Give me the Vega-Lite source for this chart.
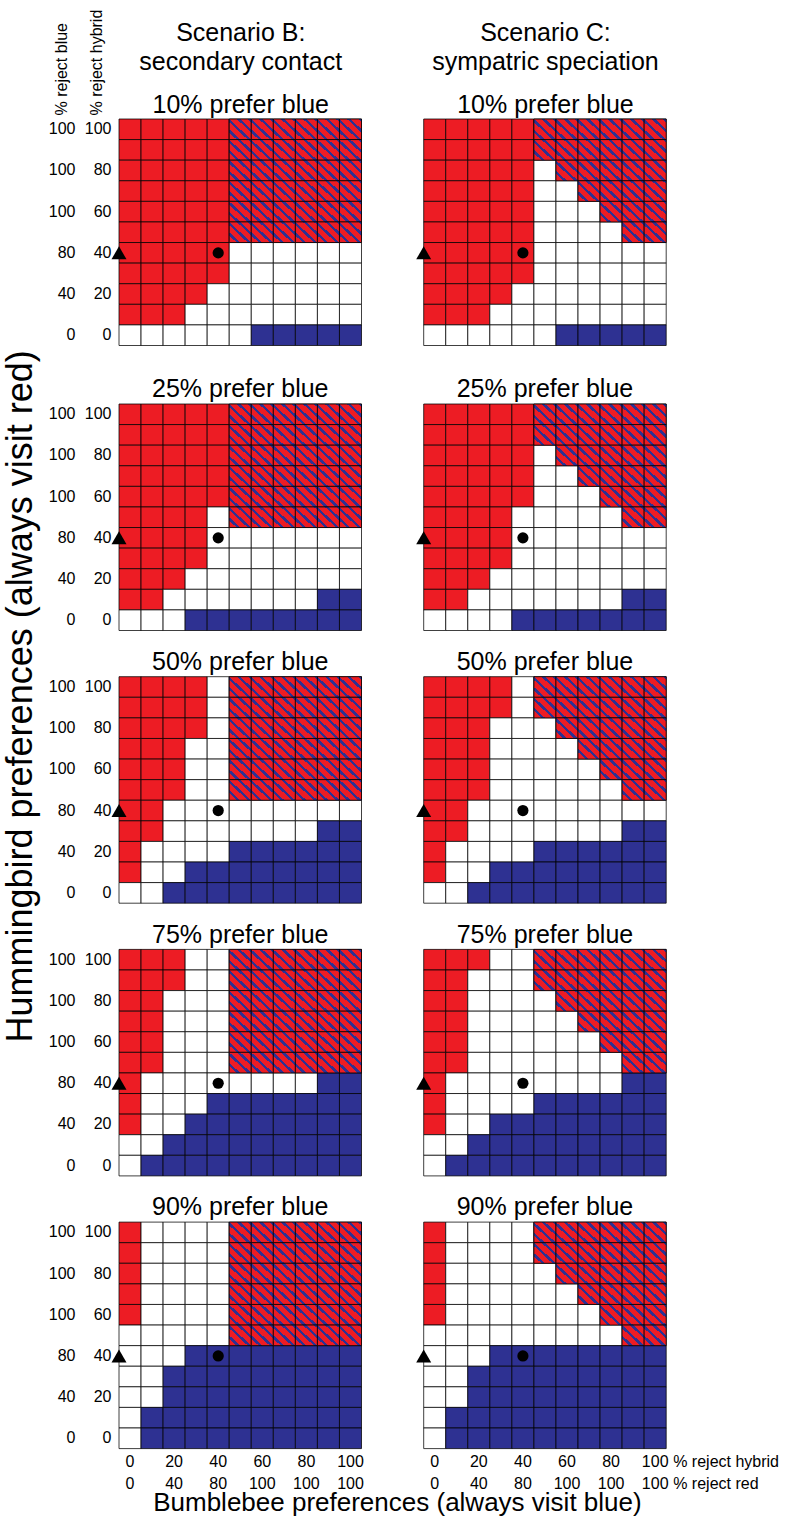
{
"$schema":"https://vega.github.io/schema/vega-lite/v6.json",
"background":"white",
"padding":{"left":3,"top":9,"right":2,"bottom":0},
"config":{"font":"Liberation Sans","view":{"stroke":null},
"axis":{"domain":false,"ticks":false,"tickSize":0,"grid":false,"labelFont":"Liberation Sans","labelFontSize":16,"labelColor":"#000","titleFont":"Liberation Sans","titleFontSize":16,"titleFontWeight":"normal","titleColor":"#000","labelAngle":0,"labelOverlap":false},
"title":{"font":"Liberation Sans","fontSize":25,"fontWeight":"normal","color":"#000"}},
"datasets":{
"markers":[{"m":"tri","x":0,"y":40},{"m":"dot","x":40,"y":40}],
"B10":[
{"x":0,"y":100,"c":"R"},{"x":10,"y":100,"c":"R"},{"x":20,"y":100,"c":"R"},{"x":30,"y":100,"c":"R"},{"x":40,"y":100,"c":"R"},{"x":50,"y":100,"c":"H"},{"x":60,"y":100,"c":"H"},{"x":70,"y":100,"c":"H"},{"x":80,"y":100,"c":"H"},{"x":90,"y":100,"c":"H"},{"x":100,"y":100,"c":"H"},
{"x":0,"y":90,"c":"R"},{"x":10,"y":90,"c":"R"},{"x":20,"y":90,"c":"R"},{"x":30,"y":90,"c":"R"},{"x":40,"y":90,"c":"R"},{"x":50,"y":90,"c":"H"},{"x":60,"y":90,"c":"H"},{"x":70,"y":90,"c":"H"},{"x":80,"y":90,"c":"H"},{"x":90,"y":90,"c":"H"},{"x":100,"y":90,"c":"H"},
{"x":0,"y":80,"c":"R"},{"x":10,"y":80,"c":"R"},{"x":20,"y":80,"c":"R"},{"x":30,"y":80,"c":"R"},{"x":40,"y":80,"c":"R"},{"x":50,"y":80,"c":"H"},{"x":60,"y":80,"c":"H"},{"x":70,"y":80,"c":"H"},{"x":80,"y":80,"c":"H"},{"x":90,"y":80,"c":"H"},{"x":100,"y":80,"c":"H"},
{"x":0,"y":70,"c":"R"},{"x":10,"y":70,"c":"R"},{"x":20,"y":70,"c":"R"},{"x":30,"y":70,"c":"R"},{"x":40,"y":70,"c":"R"},{"x":50,"y":70,"c":"H"},{"x":60,"y":70,"c":"H"},{"x":70,"y":70,"c":"H"},{"x":80,"y":70,"c":"H"},{"x":90,"y":70,"c":"H"},{"x":100,"y":70,"c":"H"},
{"x":0,"y":60,"c":"R"},{"x":10,"y":60,"c":"R"},{"x":20,"y":60,"c":"R"},{"x":30,"y":60,"c":"R"},{"x":40,"y":60,"c":"R"},{"x":50,"y":60,"c":"H"},{"x":60,"y":60,"c":"H"},{"x":70,"y":60,"c":"H"},{"x":80,"y":60,"c":"H"},{"x":90,"y":60,"c":"H"},{"x":100,"y":60,"c":"H"},
{"x":0,"y":50,"c":"R"},{"x":10,"y":50,"c":"R"},{"x":20,"y":50,"c":"R"},{"x":30,"y":50,"c":"R"},{"x":40,"y":50,"c":"R"},{"x":50,"y":50,"c":"H"},{"x":60,"y":50,"c":"H"},{"x":70,"y":50,"c":"H"},{"x":80,"y":50,"c":"H"},{"x":90,"y":50,"c":"H"},{"x":100,"y":50,"c":"H"},
{"x":0,"y":40,"c":"R"},{"x":10,"y":40,"c":"R"},{"x":20,"y":40,"c":"R"},{"x":30,"y":40,"c":"R"},{"x":40,"y":40,"c":"R"},{"x":50,"y":40,"c":"W"},{"x":60,"y":40,"c":"W"},{"x":70,"y":40,"c":"W"},{"x":80,"y":40,"c":"W"},{"x":90,"y":40,"c":"W"},{"x":100,"y":40,"c":"W"},
{"x":0,"y":30,"c":"R"},{"x":10,"y":30,"c":"R"},{"x":20,"y":30,"c":"R"},{"x":30,"y":30,"c":"R"},{"x":40,"y":30,"c":"R"},{"x":50,"y":30,"c":"W"},{"x":60,"y":30,"c":"W"},{"x":70,"y":30,"c":"W"},{"x":80,"y":30,"c":"W"},{"x":90,"y":30,"c":"W"},{"x":100,"y":30,"c":"W"},
{"x":0,"y":20,"c":"R"},{"x":10,"y":20,"c":"R"},{"x":20,"y":20,"c":"R"},{"x":30,"y":20,"c":"R"},{"x":40,"y":20,"c":"W"},{"x":50,"y":20,"c":"W"},{"x":60,"y":20,"c":"W"},{"x":70,"y":20,"c":"W"},{"x":80,"y":20,"c":"W"},{"x":90,"y":20,"c":"W"},{"x":100,"y":20,"c":"W"},
{"x":0,"y":10,"c":"R"},{"x":10,"y":10,"c":"R"},{"x":20,"y":10,"c":"R"},{"x":30,"y":10,"c":"W"},{"x":40,"y":10,"c":"W"},{"x":50,"y":10,"c":"W"},{"x":60,"y":10,"c":"W"},{"x":70,"y":10,"c":"W"},{"x":80,"y":10,"c":"W"},{"x":90,"y":10,"c":"W"},{"x":100,"y":10,"c":"W"},
{"x":0,"y":0,"c":"W"},{"x":10,"y":0,"c":"W"},{"x":20,"y":0,"c":"W"},{"x":30,"y":0,"c":"W"},{"x":40,"y":0,"c":"W"},{"x":50,"y":0,"c":"W"},{"x":60,"y":0,"c":"B"},{"x":70,"y":0,"c":"B"},{"x":80,"y":0,"c":"B"},{"x":90,"y":0,"c":"B"},{"x":100,"y":0,"c":"B"}],
"C10":[
{"x":0,"y":100,"c":"R"},{"x":10,"y":100,"c":"R"},{"x":20,"y":100,"c":"R"},{"x":30,"y":100,"c":"R"},{"x":40,"y":100,"c":"R"},{"x":50,"y":100,"c":"H"},{"x":60,"y":100,"c":"H"},{"x":70,"y":100,"c":"H"},{"x":80,"y":100,"c":"H"},{"x":90,"y":100,"c":"H"},{"x":100,"y":100,"c":"H"},
{"x":0,"y":90,"c":"R"},{"x":10,"y":90,"c":"R"},{"x":20,"y":90,"c":"R"},{"x":30,"y":90,"c":"R"},{"x":40,"y":90,"c":"R"},{"x":50,"y":90,"c":"H"},{"x":60,"y":90,"c":"H"},{"x":70,"y":90,"c":"H"},{"x":80,"y":90,"c":"H"},{"x":90,"y":90,"c":"H"},{"x":100,"y":90,"c":"H"},
{"x":0,"y":80,"c":"R"},{"x":10,"y":80,"c":"R"},{"x":20,"y":80,"c":"R"},{"x":30,"y":80,"c":"R"},{"x":40,"y":80,"c":"R"},{"x":50,"y":80,"c":"W"},{"x":60,"y":80,"c":"H"},{"x":70,"y":80,"c":"H"},{"x":80,"y":80,"c":"H"},{"x":90,"y":80,"c":"H"},{"x":100,"y":80,"c":"H"},
{"x":0,"y":70,"c":"R"},{"x":10,"y":70,"c":"R"},{"x":20,"y":70,"c":"R"},{"x":30,"y":70,"c":"R"},{"x":40,"y":70,"c":"R"},{"x":50,"y":70,"c":"W"},{"x":60,"y":70,"c":"W"},{"x":70,"y":70,"c":"H"},{"x":80,"y":70,"c":"H"},{"x":90,"y":70,"c":"H"},{"x":100,"y":70,"c":"H"},
{"x":0,"y":60,"c":"R"},{"x":10,"y":60,"c":"R"},{"x":20,"y":60,"c":"R"},{"x":30,"y":60,"c":"R"},{"x":40,"y":60,"c":"R"},{"x":50,"y":60,"c":"W"},{"x":60,"y":60,"c":"W"},{"x":70,"y":60,"c":"W"},{"x":80,"y":60,"c":"H"},{"x":90,"y":60,"c":"H"},{"x":100,"y":60,"c":"H"},
{"x":0,"y":50,"c":"R"},{"x":10,"y":50,"c":"R"},{"x":20,"y":50,"c":"R"},{"x":30,"y":50,"c":"R"},{"x":40,"y":50,"c":"R"},{"x":50,"y":50,"c":"W"},{"x":60,"y":50,"c":"W"},{"x":70,"y":50,"c":"W"},{"x":80,"y":50,"c":"W"},{"x":90,"y":50,"c":"H"},{"x":100,"y":50,"c":"H"},
{"x":0,"y":40,"c":"R"},{"x":10,"y":40,"c":"R"},{"x":20,"y":40,"c":"R"},{"x":30,"y":40,"c":"R"},{"x":40,"y":40,"c":"R"},{"x":50,"y":40,"c":"W"},{"x":60,"y":40,"c":"W"},{"x":70,"y":40,"c":"W"},{"x":80,"y":40,"c":"W"},{"x":90,"y":40,"c":"W"},{"x":100,"y":40,"c":"W"},
{"x":0,"y":30,"c":"R"},{"x":10,"y":30,"c":"R"},{"x":20,"y":30,"c":"R"},{"x":30,"y":30,"c":"R"},{"x":40,"y":30,"c":"R"},{"x":50,"y":30,"c":"W"},{"x":60,"y":30,"c":"W"},{"x":70,"y":30,"c":"W"},{"x":80,"y":30,"c":"W"},{"x":90,"y":30,"c":"W"},{"x":100,"y":30,"c":"W"},
{"x":0,"y":20,"c":"R"},{"x":10,"y":20,"c":"R"},{"x":20,"y":20,"c":"R"},{"x":30,"y":20,"c":"R"},{"x":40,"y":20,"c":"W"},{"x":50,"y":20,"c":"W"},{"x":60,"y":20,"c":"W"},{"x":70,"y":20,"c":"W"},{"x":80,"y":20,"c":"W"},{"x":90,"y":20,"c":"W"},{"x":100,"y":20,"c":"W"},
{"x":0,"y":10,"c":"R"},{"x":10,"y":10,"c":"R"},{"x":20,"y":10,"c":"R"},{"x":30,"y":10,"c":"W"},{"x":40,"y":10,"c":"W"},{"x":50,"y":10,"c":"W"},{"x":60,"y":10,"c":"W"},{"x":70,"y":10,"c":"W"},{"x":80,"y":10,"c":"W"},{"x":90,"y":10,"c":"W"},{"x":100,"y":10,"c":"W"},
{"x":0,"y":0,"c":"W"},{"x":10,"y":0,"c":"W"},{"x":20,"y":0,"c":"W"},{"x":30,"y":0,"c":"W"},{"x":40,"y":0,"c":"W"},{"x":50,"y":0,"c":"W"},{"x":60,"y":0,"c":"B"},{"x":70,"y":0,"c":"B"},{"x":80,"y":0,"c":"B"},{"x":90,"y":0,"c":"B"},{"x":100,"y":0,"c":"B"}],
"B25":[
{"x":0,"y":100,"c":"R"},{"x":10,"y":100,"c":"R"},{"x":20,"y":100,"c":"R"},{"x":30,"y":100,"c":"R"},{"x":40,"y":100,"c":"R"},{"x":50,"y":100,"c":"H"},{"x":60,"y":100,"c":"H"},{"x":70,"y":100,"c":"H"},{"x":80,"y":100,"c":"H"},{"x":90,"y":100,"c":"H"},{"x":100,"y":100,"c":"H"},
{"x":0,"y":90,"c":"R"},{"x":10,"y":90,"c":"R"},{"x":20,"y":90,"c":"R"},{"x":30,"y":90,"c":"R"},{"x":40,"y":90,"c":"R"},{"x":50,"y":90,"c":"H"},{"x":60,"y":90,"c":"H"},{"x":70,"y":90,"c":"H"},{"x":80,"y":90,"c":"H"},{"x":90,"y":90,"c":"H"},{"x":100,"y":90,"c":"H"},
{"x":0,"y":80,"c":"R"},{"x":10,"y":80,"c":"R"},{"x":20,"y":80,"c":"R"},{"x":30,"y":80,"c":"R"},{"x":40,"y":80,"c":"R"},{"x":50,"y":80,"c":"H"},{"x":60,"y":80,"c":"H"},{"x":70,"y":80,"c":"H"},{"x":80,"y":80,"c":"H"},{"x":90,"y":80,"c":"H"},{"x":100,"y":80,"c":"H"},
{"x":0,"y":70,"c":"R"},{"x":10,"y":70,"c":"R"},{"x":20,"y":70,"c":"R"},{"x":30,"y":70,"c":"R"},{"x":40,"y":70,"c":"R"},{"x":50,"y":70,"c":"H"},{"x":60,"y":70,"c":"H"},{"x":70,"y":70,"c":"H"},{"x":80,"y":70,"c":"H"},{"x":90,"y":70,"c":"H"},{"x":100,"y":70,"c":"H"},
{"x":0,"y":60,"c":"R"},{"x":10,"y":60,"c":"R"},{"x":20,"y":60,"c":"R"},{"x":30,"y":60,"c":"R"},{"x":40,"y":60,"c":"R"},{"x":50,"y":60,"c":"H"},{"x":60,"y":60,"c":"H"},{"x":70,"y":60,"c":"H"},{"x":80,"y":60,"c":"H"},{"x":90,"y":60,"c":"H"},{"x":100,"y":60,"c":"H"},
{"x":0,"y":50,"c":"R"},{"x":10,"y":50,"c":"R"},{"x":20,"y":50,"c":"R"},{"x":30,"y":50,"c":"R"},{"x":40,"y":50,"c":"W"},{"x":50,"y":50,"c":"H"},{"x":60,"y":50,"c":"H"},{"x":70,"y":50,"c":"H"},{"x":80,"y":50,"c":"H"},{"x":90,"y":50,"c":"H"},{"x":100,"y":50,"c":"H"},
{"x":0,"y":40,"c":"R"},{"x":10,"y":40,"c":"R"},{"x":20,"y":40,"c":"R"},{"x":30,"y":40,"c":"R"},{"x":40,"y":40,"c":"W"},{"x":50,"y":40,"c":"W"},{"x":60,"y":40,"c":"W"},{"x":70,"y":40,"c":"W"},{"x":80,"y":40,"c":"W"},{"x":90,"y":40,"c":"W"},{"x":100,"y":40,"c":"W"},
{"x":0,"y":30,"c":"R"},{"x":10,"y":30,"c":"R"},{"x":20,"y":30,"c":"R"},{"x":30,"y":30,"c":"R"},{"x":40,"y":30,"c":"W"},{"x":50,"y":30,"c":"W"},{"x":60,"y":30,"c":"W"},{"x":70,"y":30,"c":"W"},{"x":80,"y":30,"c":"W"},{"x":90,"y":30,"c":"W"},{"x":100,"y":30,"c":"W"},
{"x":0,"y":20,"c":"R"},{"x":10,"y":20,"c":"R"},{"x":20,"y":20,"c":"R"},{"x":30,"y":20,"c":"W"},{"x":40,"y":20,"c":"W"},{"x":50,"y":20,"c":"W"},{"x":60,"y":20,"c":"W"},{"x":70,"y":20,"c":"W"},{"x":80,"y":20,"c":"W"},{"x":90,"y":20,"c":"W"},{"x":100,"y":20,"c":"W"},
{"x":0,"y":10,"c":"R"},{"x":10,"y":10,"c":"R"},{"x":20,"y":10,"c":"W"},{"x":30,"y":10,"c":"W"},{"x":40,"y":10,"c":"W"},{"x":50,"y":10,"c":"W"},{"x":60,"y":10,"c":"W"},{"x":70,"y":10,"c":"W"},{"x":80,"y":10,"c":"W"},{"x":90,"y":10,"c":"B"},{"x":100,"y":10,"c":"B"},
{"x":0,"y":0,"c":"W"},{"x":10,"y":0,"c":"W"},{"x":20,"y":0,"c":"W"},{"x":30,"y":0,"c":"B"},{"x":40,"y":0,"c":"B"},{"x":50,"y":0,"c":"B"},{"x":60,"y":0,"c":"B"},{"x":70,"y":0,"c":"B"},{"x":80,"y":0,"c":"B"},{"x":90,"y":0,"c":"B"},{"x":100,"y":0,"c":"B"}],
"C25":[
{"x":0,"y":100,"c":"R"},{"x":10,"y":100,"c":"R"},{"x":20,"y":100,"c":"R"},{"x":30,"y":100,"c":"R"},{"x":40,"y":100,"c":"R"},{"x":50,"y":100,"c":"H"},{"x":60,"y":100,"c":"H"},{"x":70,"y":100,"c":"H"},{"x":80,"y":100,"c":"H"},{"x":90,"y":100,"c":"H"},{"x":100,"y":100,"c":"H"},
{"x":0,"y":90,"c":"R"},{"x":10,"y":90,"c":"R"},{"x":20,"y":90,"c":"R"},{"x":30,"y":90,"c":"R"},{"x":40,"y":90,"c":"R"},{"x":50,"y":90,"c":"H"},{"x":60,"y":90,"c":"H"},{"x":70,"y":90,"c":"H"},{"x":80,"y":90,"c":"H"},{"x":90,"y":90,"c":"H"},{"x":100,"y":90,"c":"H"},
{"x":0,"y":80,"c":"R"},{"x":10,"y":80,"c":"R"},{"x":20,"y":80,"c":"R"},{"x":30,"y":80,"c":"R"},{"x":40,"y":80,"c":"R"},{"x":50,"y":80,"c":"W"},{"x":60,"y":80,"c":"H"},{"x":70,"y":80,"c":"H"},{"x":80,"y":80,"c":"H"},{"x":90,"y":80,"c":"H"},{"x":100,"y":80,"c":"H"},
{"x":0,"y":70,"c":"R"},{"x":10,"y":70,"c":"R"},{"x":20,"y":70,"c":"R"},{"x":30,"y":70,"c":"R"},{"x":40,"y":70,"c":"R"},{"x":50,"y":70,"c":"W"},{"x":60,"y":70,"c":"W"},{"x":70,"y":70,"c":"H"},{"x":80,"y":70,"c":"H"},{"x":90,"y":70,"c":"H"},{"x":100,"y":70,"c":"H"},
{"x":0,"y":60,"c":"R"},{"x":10,"y":60,"c":"R"},{"x":20,"y":60,"c":"R"},{"x":30,"y":60,"c":"R"},{"x":40,"y":60,"c":"R"},{"x":50,"y":60,"c":"W"},{"x":60,"y":60,"c":"W"},{"x":70,"y":60,"c":"W"},{"x":80,"y":60,"c":"H"},{"x":90,"y":60,"c":"H"},{"x":100,"y":60,"c":"H"},
{"x":0,"y":50,"c":"R"},{"x":10,"y":50,"c":"R"},{"x":20,"y":50,"c":"R"},{"x":30,"y":50,"c":"R"},{"x":40,"y":50,"c":"W"},{"x":50,"y":50,"c":"W"},{"x":60,"y":50,"c":"W"},{"x":70,"y":50,"c":"W"},{"x":80,"y":50,"c":"W"},{"x":90,"y":50,"c":"H"},{"x":100,"y":50,"c":"H"},
{"x":0,"y":40,"c":"R"},{"x":10,"y":40,"c":"R"},{"x":20,"y":40,"c":"R"},{"x":30,"y":40,"c":"R"},{"x":40,"y":40,"c":"W"},{"x":50,"y":40,"c":"W"},{"x":60,"y":40,"c":"W"},{"x":70,"y":40,"c":"W"},{"x":80,"y":40,"c":"W"},{"x":90,"y":40,"c":"W"},{"x":100,"y":40,"c":"W"},
{"x":0,"y":30,"c":"R"},{"x":10,"y":30,"c":"R"},{"x":20,"y":30,"c":"R"},{"x":30,"y":30,"c":"R"},{"x":40,"y":30,"c":"W"},{"x":50,"y":30,"c":"W"},{"x":60,"y":30,"c":"W"},{"x":70,"y":30,"c":"W"},{"x":80,"y":30,"c":"W"},{"x":90,"y":30,"c":"W"},{"x":100,"y":30,"c":"W"},
{"x":0,"y":20,"c":"R"},{"x":10,"y":20,"c":"R"},{"x":20,"y":20,"c":"R"},{"x":30,"y":20,"c":"W"},{"x":40,"y":20,"c":"W"},{"x":50,"y":20,"c":"W"},{"x":60,"y":20,"c":"W"},{"x":70,"y":20,"c":"W"},{"x":80,"y":20,"c":"W"},{"x":90,"y":20,"c":"W"},{"x":100,"y":20,"c":"W"},
{"x":0,"y":10,"c":"R"},{"x":10,"y":10,"c":"R"},{"x":20,"y":10,"c":"W"},{"x":30,"y":10,"c":"W"},{"x":40,"y":10,"c":"W"},{"x":50,"y":10,"c":"W"},{"x":60,"y":10,"c":"W"},{"x":70,"y":10,"c":"W"},{"x":80,"y":10,"c":"W"},{"x":90,"y":10,"c":"B"},{"x":100,"y":10,"c":"B"},
{"x":0,"y":0,"c":"W"},{"x":10,"y":0,"c":"W"},{"x":20,"y":0,"c":"W"},{"x":30,"y":0,"c":"W"},{"x":40,"y":0,"c":"B"},{"x":50,"y":0,"c":"B"},{"x":60,"y":0,"c":"B"},{"x":70,"y":0,"c":"B"},{"x":80,"y":0,"c":"B"},{"x":90,"y":0,"c":"B"},{"x":100,"y":0,"c":"B"}],
"B50":[
{"x":0,"y":100,"c":"R"},{"x":10,"y":100,"c":"R"},{"x":20,"y":100,"c":"R"},{"x":30,"y":100,"c":"R"},{"x":40,"y":100,"c":"W"},{"x":50,"y":100,"c":"H"},{"x":60,"y":100,"c":"H"},{"x":70,"y":100,"c":"H"},{"x":80,"y":100,"c":"H"},{"x":90,"y":100,"c":"H"},{"x":100,"y":100,"c":"H"},
{"x":0,"y":90,"c":"R"},{"x":10,"y":90,"c":"R"},{"x":20,"y":90,"c":"R"},{"x":30,"y":90,"c":"R"},{"x":40,"y":90,"c":"W"},{"x":50,"y":90,"c":"H"},{"x":60,"y":90,"c":"H"},{"x":70,"y":90,"c":"H"},{"x":80,"y":90,"c":"H"},{"x":90,"y":90,"c":"H"},{"x":100,"y":90,"c":"H"},
{"x":0,"y":80,"c":"R"},{"x":10,"y":80,"c":"R"},{"x":20,"y":80,"c":"R"},{"x":30,"y":80,"c":"R"},{"x":40,"y":80,"c":"W"},{"x":50,"y":80,"c":"H"},{"x":60,"y":80,"c":"H"},{"x":70,"y":80,"c":"H"},{"x":80,"y":80,"c":"H"},{"x":90,"y":80,"c":"H"},{"x":100,"y":80,"c":"H"},
{"x":0,"y":70,"c":"R"},{"x":10,"y":70,"c":"R"},{"x":20,"y":70,"c":"R"},{"x":30,"y":70,"c":"W"},{"x":40,"y":70,"c":"W"},{"x":50,"y":70,"c":"H"},{"x":60,"y":70,"c":"H"},{"x":70,"y":70,"c":"H"},{"x":80,"y":70,"c":"H"},{"x":90,"y":70,"c":"H"},{"x":100,"y":70,"c":"H"},
{"x":0,"y":60,"c":"R"},{"x":10,"y":60,"c":"R"},{"x":20,"y":60,"c":"R"},{"x":30,"y":60,"c":"W"},{"x":40,"y":60,"c":"W"},{"x":50,"y":60,"c":"H"},{"x":60,"y":60,"c":"H"},{"x":70,"y":60,"c":"H"},{"x":80,"y":60,"c":"H"},{"x":90,"y":60,"c":"H"},{"x":100,"y":60,"c":"H"},
{"x":0,"y":50,"c":"R"},{"x":10,"y":50,"c":"R"},{"x":20,"y":50,"c":"R"},{"x":30,"y":50,"c":"W"},{"x":40,"y":50,"c":"W"},{"x":50,"y":50,"c":"H"},{"x":60,"y":50,"c":"H"},{"x":70,"y":50,"c":"H"},{"x":80,"y":50,"c":"H"},{"x":90,"y":50,"c":"H"},{"x":100,"y":50,"c":"H"},
{"x":0,"y":40,"c":"R"},{"x":10,"y":40,"c":"R"},{"x":20,"y":40,"c":"W"},{"x":30,"y":40,"c":"W"},{"x":40,"y":40,"c":"W"},{"x":50,"y":40,"c":"W"},{"x":60,"y":40,"c":"W"},{"x":70,"y":40,"c":"W"},{"x":80,"y":40,"c":"W"},{"x":90,"y":40,"c":"W"},{"x":100,"y":40,"c":"W"},
{"x":0,"y":30,"c":"R"},{"x":10,"y":30,"c":"R"},{"x":20,"y":30,"c":"W"},{"x":30,"y":30,"c":"W"},{"x":40,"y":30,"c":"W"},{"x":50,"y":30,"c":"W"},{"x":60,"y":30,"c":"W"},{"x":70,"y":30,"c":"W"},{"x":80,"y":30,"c":"W"},{"x":90,"y":30,"c":"B"},{"x":100,"y":30,"c":"B"},
{"x":0,"y":20,"c":"R"},{"x":10,"y":20,"c":"W"},{"x":20,"y":20,"c":"W"},{"x":30,"y":20,"c":"W"},{"x":40,"y":20,"c":"W"},{"x":50,"y":20,"c":"B"},{"x":60,"y":20,"c":"B"},{"x":70,"y":20,"c":"B"},{"x":80,"y":20,"c":"B"},{"x":90,"y":20,"c":"B"},{"x":100,"y":20,"c":"B"},
{"x":0,"y":10,"c":"R"},{"x":10,"y":10,"c":"W"},{"x":20,"y":10,"c":"W"},{"x":30,"y":10,"c":"B"},{"x":40,"y":10,"c":"B"},{"x":50,"y":10,"c":"B"},{"x":60,"y":10,"c":"B"},{"x":70,"y":10,"c":"B"},{"x":80,"y":10,"c":"B"},{"x":90,"y":10,"c":"B"},{"x":100,"y":10,"c":"B"},
{"x":0,"y":0,"c":"W"},{"x":10,"y":0,"c":"W"},{"x":20,"y":0,"c":"B"},{"x":30,"y":0,"c":"B"},{"x":40,"y":0,"c":"B"},{"x":50,"y":0,"c":"B"},{"x":60,"y":0,"c":"B"},{"x":70,"y":0,"c":"B"},{"x":80,"y":0,"c":"B"},{"x":90,"y":0,"c":"B"},{"x":100,"y":0,"c":"B"}],
"C50":[
{"x":0,"y":100,"c":"R"},{"x":10,"y":100,"c":"R"},{"x":20,"y":100,"c":"R"},{"x":30,"y":100,"c":"R"},{"x":40,"y":100,"c":"W"},{"x":50,"y":100,"c":"H"},{"x":60,"y":100,"c":"H"},{"x":70,"y":100,"c":"H"},{"x":80,"y":100,"c":"H"},{"x":90,"y":100,"c":"H"},{"x":100,"y":100,"c":"H"},
{"x":0,"y":90,"c":"R"},{"x":10,"y":90,"c":"R"},{"x":20,"y":90,"c":"R"},{"x":30,"y":90,"c":"R"},{"x":40,"y":90,"c":"W"},{"x":50,"y":90,"c":"H"},{"x":60,"y":90,"c":"H"},{"x":70,"y":90,"c":"H"},{"x":80,"y":90,"c":"H"},{"x":90,"y":90,"c":"H"},{"x":100,"y":90,"c":"H"},
{"x":0,"y":80,"c":"R"},{"x":10,"y":80,"c":"R"},{"x":20,"y":80,"c":"R"},{"x":30,"y":80,"c":"W"},{"x":40,"y":80,"c":"W"},{"x":50,"y":80,"c":"W"},{"x":60,"y":80,"c":"H"},{"x":70,"y":80,"c":"H"},{"x":80,"y":80,"c":"H"},{"x":90,"y":80,"c":"H"},{"x":100,"y":80,"c":"H"},
{"x":0,"y":70,"c":"R"},{"x":10,"y":70,"c":"R"},{"x":20,"y":70,"c":"R"},{"x":30,"y":70,"c":"W"},{"x":40,"y":70,"c":"W"},{"x":50,"y":70,"c":"W"},{"x":60,"y":70,"c":"W"},{"x":70,"y":70,"c":"H"},{"x":80,"y":70,"c":"H"},{"x":90,"y":70,"c":"H"},{"x":100,"y":70,"c":"H"},
{"x":0,"y":60,"c":"R"},{"x":10,"y":60,"c":"R"},{"x":20,"y":60,"c":"R"},{"x":30,"y":60,"c":"W"},{"x":40,"y":60,"c":"W"},{"x":50,"y":60,"c":"W"},{"x":60,"y":60,"c":"W"},{"x":70,"y":60,"c":"W"},{"x":80,"y":60,"c":"H"},{"x":90,"y":60,"c":"H"},{"x":100,"y":60,"c":"H"},
{"x":0,"y":50,"c":"R"},{"x":10,"y":50,"c":"R"},{"x":20,"y":50,"c":"R"},{"x":30,"y":50,"c":"W"},{"x":40,"y":50,"c":"W"},{"x":50,"y":50,"c":"W"},{"x":60,"y":50,"c":"W"},{"x":70,"y":50,"c":"W"},{"x":80,"y":50,"c":"W"},{"x":90,"y":50,"c":"H"},{"x":100,"y":50,"c":"H"},
{"x":0,"y":40,"c":"R"},{"x":10,"y":40,"c":"R"},{"x":20,"y":40,"c":"W"},{"x":30,"y":40,"c":"W"},{"x":40,"y":40,"c":"W"},{"x":50,"y":40,"c":"W"},{"x":60,"y":40,"c":"W"},{"x":70,"y":40,"c":"W"},{"x":80,"y":40,"c":"W"},{"x":90,"y":40,"c":"W"},{"x":100,"y":40,"c":"W"},
{"x":0,"y":30,"c":"R"},{"x":10,"y":30,"c":"R"},{"x":20,"y":30,"c":"W"},{"x":30,"y":30,"c":"W"},{"x":40,"y":30,"c":"W"},{"x":50,"y":30,"c":"W"},{"x":60,"y":30,"c":"W"},{"x":70,"y":30,"c":"W"},{"x":80,"y":30,"c":"W"},{"x":90,"y":30,"c":"B"},{"x":100,"y":30,"c":"B"},
{"x":0,"y":20,"c":"R"},{"x":10,"y":20,"c":"W"},{"x":20,"y":20,"c":"W"},{"x":30,"y":20,"c":"W"},{"x":40,"y":20,"c":"W"},{"x":50,"y":20,"c":"B"},{"x":60,"y":20,"c":"B"},{"x":70,"y":20,"c":"B"},{"x":80,"y":20,"c":"B"},{"x":90,"y":20,"c":"B"},{"x":100,"y":20,"c":"B"},
{"x":0,"y":10,"c":"R"},{"x":10,"y":10,"c":"W"},{"x":20,"y":10,"c":"W"},{"x":30,"y":10,"c":"B"},{"x":40,"y":10,"c":"B"},{"x":50,"y":10,"c":"B"},{"x":60,"y":10,"c":"B"},{"x":70,"y":10,"c":"B"},{"x":80,"y":10,"c":"B"},{"x":90,"y":10,"c":"B"},{"x":100,"y":10,"c":"B"},
{"x":0,"y":0,"c":"W"},{"x":10,"y":0,"c":"W"},{"x":20,"y":0,"c":"B"},{"x":30,"y":0,"c":"B"},{"x":40,"y":0,"c":"B"},{"x":50,"y":0,"c":"B"},{"x":60,"y":0,"c":"B"},{"x":70,"y":0,"c":"B"},{"x":80,"y":0,"c":"B"},{"x":90,"y":0,"c":"B"},{"x":100,"y":0,"c":"B"}],
"B75":[
{"x":0,"y":100,"c":"R"},{"x":10,"y":100,"c":"R"},{"x":20,"y":100,"c":"R"},{"x":30,"y":100,"c":"W"},{"x":40,"y":100,"c":"W"},{"x":50,"y":100,"c":"H"},{"x":60,"y":100,"c":"H"},{"x":70,"y":100,"c":"H"},{"x":80,"y":100,"c":"H"},{"x":90,"y":100,"c":"H"},{"x":100,"y":100,"c":"H"},
{"x":0,"y":90,"c":"R"},{"x":10,"y":90,"c":"R"},{"x":20,"y":90,"c":"R"},{"x":30,"y":90,"c":"W"},{"x":40,"y":90,"c":"W"},{"x":50,"y":90,"c":"H"},{"x":60,"y":90,"c":"H"},{"x":70,"y":90,"c":"H"},{"x":80,"y":90,"c":"H"},{"x":90,"y":90,"c":"H"},{"x":100,"y":90,"c":"H"},
{"x":0,"y":80,"c":"R"},{"x":10,"y":80,"c":"R"},{"x":20,"y":80,"c":"W"},{"x":30,"y":80,"c":"W"},{"x":40,"y":80,"c":"W"},{"x":50,"y":80,"c":"H"},{"x":60,"y":80,"c":"H"},{"x":70,"y":80,"c":"H"},{"x":80,"y":80,"c":"H"},{"x":90,"y":80,"c":"H"},{"x":100,"y":80,"c":"H"},
{"x":0,"y":70,"c":"R"},{"x":10,"y":70,"c":"R"},{"x":20,"y":70,"c":"W"},{"x":30,"y":70,"c":"W"},{"x":40,"y":70,"c":"W"},{"x":50,"y":70,"c":"H"},{"x":60,"y":70,"c":"H"},{"x":70,"y":70,"c":"H"},{"x":80,"y":70,"c":"H"},{"x":90,"y":70,"c":"H"},{"x":100,"y":70,"c":"H"},
{"x":0,"y":60,"c":"R"},{"x":10,"y":60,"c":"R"},{"x":20,"y":60,"c":"W"},{"x":30,"y":60,"c":"W"},{"x":40,"y":60,"c":"W"},{"x":50,"y":60,"c":"H"},{"x":60,"y":60,"c":"H"},{"x":70,"y":60,"c":"H"},{"x":80,"y":60,"c":"H"},{"x":90,"y":60,"c":"H"},{"x":100,"y":60,"c":"H"},
{"x":0,"y":50,"c":"R"},{"x":10,"y":50,"c":"R"},{"x":20,"y":50,"c":"W"},{"x":30,"y":50,"c":"W"},{"x":40,"y":50,"c":"W"},{"x":50,"y":50,"c":"H"},{"x":60,"y":50,"c":"H"},{"x":70,"y":50,"c":"H"},{"x":80,"y":50,"c":"H"},{"x":90,"y":50,"c":"H"},{"x":100,"y":50,"c":"H"},
{"x":0,"y":40,"c":"R"},{"x":10,"y":40,"c":"W"},{"x":20,"y":40,"c":"W"},{"x":30,"y":40,"c":"W"},{"x":40,"y":40,"c":"W"},{"x":50,"y":40,"c":"W"},{"x":60,"y":40,"c":"W"},{"x":70,"y":40,"c":"W"},{"x":80,"y":40,"c":"W"},{"x":90,"y":40,"c":"B"},{"x":100,"y":40,"c":"B"},
{"x":0,"y":30,"c":"R"},{"x":10,"y":30,"c":"W"},{"x":20,"y":30,"c":"W"},{"x":30,"y":30,"c":"W"},{"x":40,"y":30,"c":"B"},{"x":50,"y":30,"c":"B"},{"x":60,"y":30,"c":"B"},{"x":70,"y":30,"c":"B"},{"x":80,"y":30,"c":"B"},{"x":90,"y":30,"c":"B"},{"x":100,"y":30,"c":"B"},
{"x":0,"y":20,"c":"R"},{"x":10,"y":20,"c":"W"},{"x":20,"y":20,"c":"W"},{"x":30,"y":20,"c":"B"},{"x":40,"y":20,"c":"B"},{"x":50,"y":20,"c":"B"},{"x":60,"y":20,"c":"B"},{"x":70,"y":20,"c":"B"},{"x":80,"y":20,"c":"B"},{"x":90,"y":20,"c":"B"},{"x":100,"y":20,"c":"B"},
{"x":0,"y":10,"c":"W"},{"x":10,"y":10,"c":"W"},{"x":20,"y":10,"c":"B"},{"x":30,"y":10,"c":"B"},{"x":40,"y":10,"c":"B"},{"x":50,"y":10,"c":"B"},{"x":60,"y":10,"c":"B"},{"x":70,"y":10,"c":"B"},{"x":80,"y":10,"c":"B"},{"x":90,"y":10,"c":"B"},{"x":100,"y":10,"c":"B"},
{"x":0,"y":0,"c":"W"},{"x":10,"y":0,"c":"B"},{"x":20,"y":0,"c":"B"},{"x":30,"y":0,"c":"B"},{"x":40,"y":0,"c":"B"},{"x":50,"y":0,"c":"B"},{"x":60,"y":0,"c":"B"},{"x":70,"y":0,"c":"B"},{"x":80,"y":0,"c":"B"},{"x":90,"y":0,"c":"B"},{"x":100,"y":0,"c":"B"}],
"C75":[
{"x":0,"y":100,"c":"R"},{"x":10,"y":100,"c":"R"},{"x":20,"y":100,"c":"R"},{"x":30,"y":100,"c":"W"},{"x":40,"y":100,"c":"W"},{"x":50,"y":100,"c":"H"},{"x":60,"y":100,"c":"H"},{"x":70,"y":100,"c":"H"},{"x":80,"y":100,"c":"H"},{"x":90,"y":100,"c":"H"},{"x":100,"y":100,"c":"H"},
{"x":0,"y":90,"c":"R"},{"x":10,"y":90,"c":"R"},{"x":20,"y":90,"c":"W"},{"x":30,"y":90,"c":"W"},{"x":40,"y":90,"c":"W"},{"x":50,"y":90,"c":"H"},{"x":60,"y":90,"c":"H"},{"x":70,"y":90,"c":"H"},{"x":80,"y":90,"c":"H"},{"x":90,"y":90,"c":"H"},{"x":100,"y":90,"c":"H"},
{"x":0,"y":80,"c":"R"},{"x":10,"y":80,"c":"R"},{"x":20,"y":80,"c":"W"},{"x":30,"y":80,"c":"W"},{"x":40,"y":80,"c":"W"},{"x":50,"y":80,"c":"W"},{"x":60,"y":80,"c":"H"},{"x":70,"y":80,"c":"H"},{"x":80,"y":80,"c":"H"},{"x":90,"y":80,"c":"H"},{"x":100,"y":80,"c":"H"},
{"x":0,"y":70,"c":"R"},{"x":10,"y":70,"c":"R"},{"x":20,"y":70,"c":"W"},{"x":30,"y":70,"c":"W"},{"x":40,"y":70,"c":"W"},{"x":50,"y":70,"c":"W"},{"x":60,"y":70,"c":"W"},{"x":70,"y":70,"c":"H"},{"x":80,"y":70,"c":"H"},{"x":90,"y":70,"c":"H"},{"x":100,"y":70,"c":"H"},
{"x":0,"y":60,"c":"R"},{"x":10,"y":60,"c":"R"},{"x":20,"y":60,"c":"W"},{"x":30,"y":60,"c":"W"},{"x":40,"y":60,"c":"W"},{"x":50,"y":60,"c":"W"},{"x":60,"y":60,"c":"W"},{"x":70,"y":60,"c":"W"},{"x":80,"y":60,"c":"H"},{"x":90,"y":60,"c":"H"},{"x":100,"y":60,"c":"H"},
{"x":0,"y":50,"c":"R"},{"x":10,"y":50,"c":"R"},{"x":20,"y":50,"c":"W"},{"x":30,"y":50,"c":"W"},{"x":40,"y":50,"c":"W"},{"x":50,"y":50,"c":"W"},{"x":60,"y":50,"c":"W"},{"x":70,"y":50,"c":"W"},{"x":80,"y":50,"c":"W"},{"x":90,"y":50,"c":"H"},{"x":100,"y":50,"c":"H"},
{"x":0,"y":40,"c":"R"},{"x":10,"y":40,"c":"W"},{"x":20,"y":40,"c":"W"},{"x":30,"y":40,"c":"W"},{"x":40,"y":40,"c":"W"},{"x":50,"y":40,"c":"W"},{"x":60,"y":40,"c":"W"},{"x":70,"y":40,"c":"W"},{"x":80,"y":40,"c":"W"},{"x":90,"y":40,"c":"B"},{"x":100,"y":40,"c":"B"},
{"x":0,"y":30,"c":"R"},{"x":10,"y":30,"c":"W"},{"x":20,"y":30,"c":"W"},{"x":30,"y":30,"c":"W"},{"x":40,"y":30,"c":"W"},{"x":50,"y":30,"c":"B"},{"x":60,"y":30,"c":"B"},{"x":70,"y":30,"c":"B"},{"x":80,"y":30,"c":"B"},{"x":90,"y":30,"c":"B"},{"x":100,"y":30,"c":"B"},
{"x":0,"y":20,"c":"R"},{"x":10,"y":20,"c":"W"},{"x":20,"y":20,"c":"W"},{"x":30,"y":20,"c":"B"},{"x":40,"y":20,"c":"B"},{"x":50,"y":20,"c":"B"},{"x":60,"y":20,"c":"B"},{"x":70,"y":20,"c":"B"},{"x":80,"y":20,"c":"B"},{"x":90,"y":20,"c":"B"},{"x":100,"y":20,"c":"B"},
{"x":0,"y":10,"c":"W"},{"x":10,"y":10,"c":"W"},{"x":20,"y":10,"c":"B"},{"x":30,"y":10,"c":"B"},{"x":40,"y":10,"c":"B"},{"x":50,"y":10,"c":"B"},{"x":60,"y":10,"c":"B"},{"x":70,"y":10,"c":"B"},{"x":80,"y":10,"c":"B"},{"x":90,"y":10,"c":"B"},{"x":100,"y":10,"c":"B"},
{"x":0,"y":0,"c":"W"},{"x":10,"y":0,"c":"B"},{"x":20,"y":0,"c":"B"},{"x":30,"y":0,"c":"B"},{"x":40,"y":0,"c":"B"},{"x":50,"y":0,"c":"B"},{"x":60,"y":0,"c":"B"},{"x":70,"y":0,"c":"B"},{"x":80,"y":0,"c":"B"},{"x":90,"y":0,"c":"B"},{"x":100,"y":0,"c":"B"}],
"B90":[
{"x":0,"y":100,"c":"R"},{"x":10,"y":100,"c":"W"},{"x":20,"y":100,"c":"W"},{"x":30,"y":100,"c":"W"},{"x":40,"y":100,"c":"W"},{"x":50,"y":100,"c":"H"},{"x":60,"y":100,"c":"H"},{"x":70,"y":100,"c":"H"},{"x":80,"y":100,"c":"H"},{"x":90,"y":100,"c":"H"},{"x":100,"y":100,"c":"H"},
{"x":0,"y":90,"c":"R"},{"x":10,"y":90,"c":"W"},{"x":20,"y":90,"c":"W"},{"x":30,"y":90,"c":"W"},{"x":40,"y":90,"c":"W"},{"x":50,"y":90,"c":"H"},{"x":60,"y":90,"c":"H"},{"x":70,"y":90,"c":"H"},{"x":80,"y":90,"c":"H"},{"x":90,"y":90,"c":"H"},{"x":100,"y":90,"c":"H"},
{"x":0,"y":80,"c":"R"},{"x":10,"y":80,"c":"W"},{"x":20,"y":80,"c":"W"},{"x":30,"y":80,"c":"W"},{"x":40,"y":80,"c":"W"},{"x":50,"y":80,"c":"H"},{"x":60,"y":80,"c":"H"},{"x":70,"y":80,"c":"H"},{"x":80,"y":80,"c":"H"},{"x":90,"y":80,"c":"H"},{"x":100,"y":80,"c":"H"},
{"x":0,"y":70,"c":"R"},{"x":10,"y":70,"c":"W"},{"x":20,"y":70,"c":"W"},{"x":30,"y":70,"c":"W"},{"x":40,"y":70,"c":"W"},{"x":50,"y":70,"c":"H"},{"x":60,"y":70,"c":"H"},{"x":70,"y":70,"c":"H"},{"x":80,"y":70,"c":"H"},{"x":90,"y":70,"c":"H"},{"x":100,"y":70,"c":"H"},
{"x":0,"y":60,"c":"R"},{"x":10,"y":60,"c":"W"},{"x":20,"y":60,"c":"W"},{"x":30,"y":60,"c":"W"},{"x":40,"y":60,"c":"W"},{"x":50,"y":60,"c":"H"},{"x":60,"y":60,"c":"H"},{"x":70,"y":60,"c":"H"},{"x":80,"y":60,"c":"H"},{"x":90,"y":60,"c":"H"},{"x":100,"y":60,"c":"H"},
{"x":0,"y":50,"c":"W"},{"x":10,"y":50,"c":"W"},{"x":20,"y":50,"c":"W"},{"x":30,"y":50,"c":"W"},{"x":40,"y":50,"c":"W"},{"x":50,"y":50,"c":"H"},{"x":60,"y":50,"c":"H"},{"x":70,"y":50,"c":"H"},{"x":80,"y":50,"c":"H"},{"x":90,"y":50,"c":"H"},{"x":100,"y":50,"c":"H"},
{"x":0,"y":40,"c":"W"},{"x":10,"y":40,"c":"W"},{"x":20,"y":40,"c":"W"},{"x":30,"y":40,"c":"B"},{"x":40,"y":40,"c":"B"},{"x":50,"y":40,"c":"B"},{"x":60,"y":40,"c":"B"},{"x":70,"y":40,"c":"B"},{"x":80,"y":40,"c":"B"},{"x":90,"y":40,"c":"B"},{"x":100,"y":40,"c":"B"},
{"x":0,"y":30,"c":"W"},{"x":10,"y":30,"c":"W"},{"x":20,"y":30,"c":"B"},{"x":30,"y":30,"c":"B"},{"x":40,"y":30,"c":"B"},{"x":50,"y":30,"c":"B"},{"x":60,"y":30,"c":"B"},{"x":70,"y":30,"c":"B"},{"x":80,"y":30,"c":"B"},{"x":90,"y":30,"c":"B"},{"x":100,"y":30,"c":"B"},
{"x":0,"y":20,"c":"W"},{"x":10,"y":20,"c":"W"},{"x":20,"y":20,"c":"B"},{"x":30,"y":20,"c":"B"},{"x":40,"y":20,"c":"B"},{"x":50,"y":20,"c":"B"},{"x":60,"y":20,"c":"B"},{"x":70,"y":20,"c":"B"},{"x":80,"y":20,"c":"B"},{"x":90,"y":20,"c":"B"},{"x":100,"y":20,"c":"B"},
{"x":0,"y":10,"c":"W"},{"x":10,"y":10,"c":"B"},{"x":20,"y":10,"c":"B"},{"x":30,"y":10,"c":"B"},{"x":40,"y":10,"c":"B"},{"x":50,"y":10,"c":"B"},{"x":60,"y":10,"c":"B"},{"x":70,"y":10,"c":"B"},{"x":80,"y":10,"c":"B"},{"x":90,"y":10,"c":"B"},{"x":100,"y":10,"c":"B"},
{"x":0,"y":0,"c":"W"},{"x":10,"y":0,"c":"B"},{"x":20,"y":0,"c":"B"},{"x":30,"y":0,"c":"B"},{"x":40,"y":0,"c":"B"},{"x":50,"y":0,"c":"B"},{"x":60,"y":0,"c":"B"},{"x":70,"y":0,"c":"B"},{"x":80,"y":0,"c":"B"},{"x":90,"y":0,"c":"B"},{"x":100,"y":0,"c":"B"}],
"C90":[
{"x":0,"y":100,"c":"R"},{"x":10,"y":100,"c":"W"},{"x":20,"y":100,"c":"W"},{"x":30,"y":100,"c":"W"},{"x":40,"y":100,"c":"W"},{"x":50,"y":100,"c":"H"},{"x":60,"y":100,"c":"H"},{"x":70,"y":100,"c":"H"},{"x":80,"y":100,"c":"H"},{"x":90,"y":100,"c":"H"},{"x":100,"y":100,"c":"H"},
{"x":0,"y":90,"c":"R"},{"x":10,"y":90,"c":"W"},{"x":20,"y":90,"c":"W"},{"x":30,"y":90,"c":"W"},{"x":40,"y":90,"c":"W"},{"x":50,"y":90,"c":"H"},{"x":60,"y":90,"c":"H"},{"x":70,"y":90,"c":"H"},{"x":80,"y":90,"c":"H"},{"x":90,"y":90,"c":"H"},{"x":100,"y":90,"c":"H"},
{"x":0,"y":80,"c":"R"},{"x":10,"y":80,"c":"W"},{"x":20,"y":80,"c":"W"},{"x":30,"y":80,"c":"W"},{"x":40,"y":80,"c":"W"},{"x":50,"y":80,"c":"W"},{"x":60,"y":80,"c":"H"},{"x":70,"y":80,"c":"H"},{"x":80,"y":80,"c":"H"},{"x":90,"y":80,"c":"H"},{"x":100,"y":80,"c":"H"},
{"x":0,"y":70,"c":"R"},{"x":10,"y":70,"c":"W"},{"x":20,"y":70,"c":"W"},{"x":30,"y":70,"c":"W"},{"x":40,"y":70,"c":"W"},{"x":50,"y":70,"c":"W"},{"x":60,"y":70,"c":"W"},{"x":70,"y":70,"c":"H"},{"x":80,"y":70,"c":"H"},{"x":90,"y":70,"c":"H"},{"x":100,"y":70,"c":"H"},
{"x":0,"y":60,"c":"R"},{"x":10,"y":60,"c":"W"},{"x":20,"y":60,"c":"W"},{"x":30,"y":60,"c":"W"},{"x":40,"y":60,"c":"W"},{"x":50,"y":60,"c":"W"},{"x":60,"y":60,"c":"W"},{"x":70,"y":60,"c":"W"},{"x":80,"y":60,"c":"H"},{"x":90,"y":60,"c":"H"},{"x":100,"y":60,"c":"H"},
{"x":0,"y":50,"c":"W"},{"x":10,"y":50,"c":"W"},{"x":20,"y":50,"c":"W"},{"x":30,"y":50,"c":"W"},{"x":40,"y":50,"c":"W"},{"x":50,"y":50,"c":"W"},{"x":60,"y":50,"c":"W"},{"x":70,"y":50,"c":"W"},{"x":80,"y":50,"c":"W"},{"x":90,"y":50,"c":"H"},{"x":100,"y":50,"c":"H"},
{"x":0,"y":40,"c":"W"},{"x":10,"y":40,"c":"W"},{"x":20,"y":40,"c":"W"},{"x":30,"y":40,"c":"B"},{"x":40,"y":40,"c":"B"},{"x":50,"y":40,"c":"B"},{"x":60,"y":40,"c":"B"},{"x":70,"y":40,"c":"B"},{"x":80,"y":40,"c":"B"},{"x":90,"y":40,"c":"B"},{"x":100,"y":40,"c":"B"},
{"x":0,"y":30,"c":"W"},{"x":10,"y":30,"c":"W"},{"x":20,"y":30,"c":"B"},{"x":30,"y":30,"c":"B"},{"x":40,"y":30,"c":"B"},{"x":50,"y":30,"c":"B"},{"x":60,"y":30,"c":"B"},{"x":70,"y":30,"c":"B"},{"x":80,"y":30,"c":"B"},{"x":90,"y":30,"c":"B"},{"x":100,"y":30,"c":"B"},
{"x":0,"y":20,"c":"W"},{"x":10,"y":20,"c":"W"},{"x":20,"y":20,"c":"B"},{"x":30,"y":20,"c":"B"},{"x":40,"y":20,"c":"B"},{"x":50,"y":20,"c":"B"},{"x":60,"y":20,"c":"B"},{"x":70,"y":20,"c":"B"},{"x":80,"y":20,"c":"B"},{"x":90,"y":20,"c":"B"},{"x":100,"y":20,"c":"B"},
{"x":0,"y":10,"c":"W"},{"x":10,"y":10,"c":"B"},{"x":20,"y":10,"c":"B"},{"x":30,"y":10,"c":"B"},{"x":40,"y":10,"c":"B"},{"x":50,"y":10,"c":"B"},{"x":60,"y":10,"c":"B"},{"x":70,"y":10,"c":"B"},{"x":80,"y":10,"c":"B"},{"x":90,"y":10,"c":"B"},{"x":100,"y":10,"c":"B"},
{"x":0,"y":0,"c":"W"},{"x":10,"y":0,"c":"B"},{"x":20,"y":0,"c":"B"},{"x":30,"y":0,"c":"B"},{"x":40,"y":0,"c":"B"},{"x":50,"y":0,"c":"B"},{"x":60,"y":0,"c":"B"},{"x":70,"y":0,"c":"B"},{"x":80,"y":0,"c":"B"},{"x":90,"y":0,"c":"B"},{"x":100,"y":0,"c":"B"}]
},
"title":{"text":"Hummingbird preferences (always visit red)","orient":"left","fontSize":36,"anchor":"middle","offset":8,"dx":66},
"vconcat":[{
"title":{"text":"Bumblebee preferences (always visit blue)","orient":"bottom","fontSize":26,"anchor":"middle","offset":-2,"baseline":"top","dx":-16},
"spacing":31,
"vconcat":[
{"hconcat":[
{"width":242.5,"height":226.5,
"layer":[
{"data":{"name":"B10"},"mark":{"type":"rect","stroke":"#000","strokeWidth":0.75},"encoding":{"x":{"field":"x","type":"ordinal","scale":{"type":"band","domain":[0,10,20,30,40,50,60,70,80,90,100],"paddingInner":0,"paddingOuter":0},"axis":{"orient":"top","labels":false,"title":"10% prefer blue","titleFontSize":25,"titleAngle":0,"titleAlign":"center","titleBaseline":"alphabetic","titleX":121.25,"titleY":-6.6}},"y":{"field":"y","type":"ordinal","scale":{"type":"band","domain":[100,90,80,70,60,50,40,30,20,10,0],"paddingInner":0,"paddingOuter":0},"axis":{"values":[0,20,40,60,80,100],"orient":"left","labelPadding":8,"title":"% reject hybrid","titleAngle":270,"titleAlign":"left","titleBaseline":"alphabetic","titleX":-17.5,"titleY":-4}},"fill":{"field":"c","type":"nominal","scale":{"domain":["R","W","B","H"],"range":["#ED1C24","#FFFFFF","#2E3192","#ED1C24"]},"legend":null}}},
{"data":{"name":"B10"},"transform":[{"filter":"datum.c==='H'"}],"mark":{"type":"rect","stroke":"#000","strokeWidth":0.75,"fill":{"gradient":"linear","x1":0,"y1":1,"x2":1,"y2":0,"stops":[{"offset":0,"color":"#ED1C24"},{"offset":0.17,"color":"#ED1C24"},{"offset":0.17,"color":"#2E3192"},{"offset":0.25,"color":"#2E3192"},{"offset":0.25,"color":"#ED1C24"},{"offset":0.42,"color":"#ED1C24"},{"offset":0.42,"color":"#2E3192"},{"offset":0.5,"color":"#2E3192"},{"offset":0.5,"color":"#ED1C24"},{"offset":0.67,"color":"#ED1C24"},{"offset":0.67,"color":"#2E3192"},{"offset":0.75,"color":"#2E3192"},{"offset":0.75,"color":"#ED1C24"},{"offset":0.92,"color":"#ED1C24"},{"offset":0.92,"color":"#2E3192"},{"offset":1,"color":"#2E3192"}]}},"encoding":{"x":{"field":"x","type":"ordinal","scale":{"type":"band","domain":[0,10,20,30,40,50,60,70,80,90,100],"paddingInner":0,"paddingOuter":0},"axis":{"orient":"top","labels":false,"title":["Scenario B:","secondary contact"],"titleFontSize":25,"titleLineHeight":29,"titleAngle":0,"titleAlign":"center","titleBaseline":"alphabetic","titleX":121.25,"titleY":-79}},"y":{"field":"y","type":"ordinal","scale":{"type":"band","domain":[100,90,80,70,60,50,40,30,20,10,0],"paddingInner":0,"paddingOuter":0},"axis":null}}},
{"data":{"name":"markers"},"transform":[{"filter":"datum.m==='tri'"}],"mark":{"type":"point","shape":"triangle-up","size":225,"filled":true,"color":"#000","opacity":1},"encoding":{"x":{"field":"x","type":"ordinal","bandPosition":0,"scale":{"type":"band","domain":[0,10,20,30,40,50,60,70,80,90,100],"paddingInner":0,"paddingOuter":0},"axis":null},"y":{"field":"y","type":"ordinal","scale":{"type":"band","domain":[100,90,80,70,60,50,40,30,20,10,0],"paddingInner":0,"paddingOuter":0},"axis":null}}},
{"data":{"name":"markers"},"transform":[{"filter":"datum.m==='dot'"}],"mark":{"type":"point","shape":"circle","size":125,"filled":true,"color":"#000","opacity":1},"encoding":{"x":{"field":"x","type":"ordinal","scale":{"type":"band","domain":[0,10,20,30,40,50,60,70,80,90,100],"paddingInner":0,"paddingOuter":0},"axis":null},"y":{"field":"y","type":"ordinal","scale":{"type":"band","domain":[100,90,80,70,60,50,40,30,20,10,0],"paddingInner":0,"paddingOuter":0},"axis":{"values":[0,20,40,60,80,100],"orient":"left","offset":36,"labelPadding":8,"labelExpr":"datum.value == 20 ? '40' : datum.value == 40 ? '80' : datum.value >= 60 ? '100' : '0'","title":"% reject blue","titleAngle":270,"titleAlign":"left","titleBaseline":"alphabetic","titleX":-16.5,"titleY":-4}}}}
],
"resolve":{"axis":{"x":"independent","y":"independent"}}},
{"width":242.5,"height":226.5,
"layer":[
{"data":{"name":"C10"},"mark":{"type":"rect","stroke":"#000","strokeWidth":0.75},"encoding":{"x":{"field":"x","type":"ordinal","scale":{"type":"band","domain":[0,10,20,30,40,50,60,70,80,90,100],"paddingInner":0,"paddingOuter":0},"axis":{"orient":"top","labels":false,"title":"10% prefer blue","titleFontSize":25,"titleAngle":0,"titleAlign":"center","titleBaseline":"alphabetic","titleX":121.25,"titleY":-6.6}},"y":{"field":"y","type":"ordinal","scale":{"type":"band","domain":[100,90,80,70,60,50,40,30,20,10,0],"paddingInner":0,"paddingOuter":0},"axis":null},"fill":{"field":"c","type":"nominal","scale":{"domain":["R","W","B","H"],"range":["#ED1C24","#FFFFFF","#2E3192","#ED1C24"]},"legend":null}}},
{"data":{"name":"C10"},"transform":[{"filter":"datum.c==='H'"}],"mark":{"type":"rect","stroke":"#000","strokeWidth":0.75,"fill":{"gradient":"linear","x1":0,"y1":1,"x2":1,"y2":0,"stops":[{"offset":0,"color":"#ED1C24"},{"offset":0.17,"color":"#ED1C24"},{"offset":0.17,"color":"#2E3192"},{"offset":0.25,"color":"#2E3192"},{"offset":0.25,"color":"#ED1C24"},{"offset":0.42,"color":"#ED1C24"},{"offset":0.42,"color":"#2E3192"},{"offset":0.5,"color":"#2E3192"},{"offset":0.5,"color":"#ED1C24"},{"offset":0.67,"color":"#ED1C24"},{"offset":0.67,"color":"#2E3192"},{"offset":0.75,"color":"#2E3192"},{"offset":0.75,"color":"#ED1C24"},{"offset":0.92,"color":"#ED1C24"},{"offset":0.92,"color":"#2E3192"},{"offset":1,"color":"#2E3192"}]}},"encoding":{"x":{"field":"x","type":"ordinal","scale":{"type":"band","domain":[0,10,20,30,40,50,60,70,80,90,100],"paddingInner":0,"paddingOuter":0},"axis":{"orient":"top","labels":false,"title":["Scenario C:","sympatric speciation"],"titleFontSize":25,"titleLineHeight":29,"titleAngle":0,"titleAlign":"center","titleBaseline":"alphabetic","titleX":121.25,"titleY":-79}},"y":{"field":"y","type":"ordinal","scale":{"type":"band","domain":[100,90,80,70,60,50,40,30,20,10,0],"paddingInner":0,"paddingOuter":0},"axis":null}}},
{"data":{"name":"markers"},"transform":[{"filter":"datum.m==='tri'"}],"mark":{"type":"point","shape":"triangle-up","size":225,"filled":true,"color":"#000","opacity":1},"encoding":{"x":{"field":"x","type":"ordinal","bandPosition":0,"scale":{"type":"band","domain":[0,10,20,30,40,50,60,70,80,90,100],"paddingInner":0,"paddingOuter":0},"axis":null},"y":{"field":"y","type":"ordinal","scale":{"type":"band","domain":[100,90,80,70,60,50,40,30,20,10,0],"paddingInner":0,"paddingOuter":0},"axis":null}}},
{"data":{"name":"markers"},"transform":[{"filter":"datum.m==='dot'"}],"mark":{"type":"point","shape":"circle","size":125,"filled":true,"color":"#000","opacity":1},"encoding":{"x":{"field":"x","type":"ordinal","scale":{"type":"band","domain":[0,10,20,30,40,50,60,70,80,90,100],"paddingInner":0,"paddingOuter":0},"axis":null},"y":{"field":"y","type":"ordinal","scale":{"type":"band","domain":[100,90,80,70,60,50,40,30,20,10,0],"paddingInner":0,"paddingOuter":0},"axis":null}}}
],
"resolve":{"axis":{"x":"independent","y":"independent"}}}
],"spacing":61.7,"bounds":"flush"},
{"spacing":18.7,"vconcat":[
{"hconcat":[
{"width":242.5,"height":226.5,"title":{"text":"25% prefer blue","frame":"group","anchor":"middle","offset":1.35,"baseline":"top"},
"layer":[
{"data":{"name":"B25"},"mark":{"type":"rect","stroke":"#000","strokeWidth":0.75},"encoding":{"x":{"field":"x","type":"ordinal","scale":{"type":"band","domain":[0,10,20,30,40,50,60,70,80,90,100],"paddingInner":0,"paddingOuter":0},"axis":null},"y":{"field":"y","type":"ordinal","scale":{"type":"band","domain":[100,90,80,70,60,50,40,30,20,10,0],"paddingInner":0,"paddingOuter":0},"axis":{"values":[0,20,40,60,80,100],"orient":"left","labelPadding":8,"title":null}},"fill":{"field":"c","type":"nominal","scale":{"domain":["R","W","B","H"],"range":["#ED1C24","#FFFFFF","#2E3192","#ED1C24"]},"legend":null}}},
{"data":{"name":"B25"},"transform":[{"filter":"datum.c==='H'"}],"mark":{"type":"rect","stroke":"#000","strokeWidth":0.75,"fill":{"gradient":"linear","x1":0,"y1":1,"x2":1,"y2":0,"stops":[{"offset":0,"color":"#ED1C24"},{"offset":0.17,"color":"#ED1C24"},{"offset":0.17,"color":"#2E3192"},{"offset":0.25,"color":"#2E3192"},{"offset":0.25,"color":"#ED1C24"},{"offset":0.42,"color":"#ED1C24"},{"offset":0.42,"color":"#2E3192"},{"offset":0.5,"color":"#2E3192"},{"offset":0.5,"color":"#ED1C24"},{"offset":0.67,"color":"#ED1C24"},{"offset":0.67,"color":"#2E3192"},{"offset":0.75,"color":"#2E3192"},{"offset":0.75,"color":"#ED1C24"},{"offset":0.92,"color":"#ED1C24"},{"offset":0.92,"color":"#2E3192"},{"offset":1,"color":"#2E3192"}]}},"encoding":{"x":{"field":"x","type":"ordinal","scale":{"type":"band","domain":[0,10,20,30,40,50,60,70,80,90,100],"paddingInner":0,"paddingOuter":0},"axis":null},"y":{"field":"y","type":"ordinal","scale":{"type":"band","domain":[100,90,80,70,60,50,40,30,20,10,0],"paddingInner":0,"paddingOuter":0},"axis":null}}},
{"data":{"name":"markers"},"transform":[{"filter":"datum.m==='tri'"}],"mark":{"type":"point","shape":"triangle-up","size":225,"filled":true,"color":"#000","opacity":1},"encoding":{"x":{"field":"x","type":"ordinal","bandPosition":0,"scale":{"type":"band","domain":[0,10,20,30,40,50,60,70,80,90,100],"paddingInner":0,"paddingOuter":0},"axis":null},"y":{"field":"y","type":"ordinal","scale":{"type":"band","domain":[100,90,80,70,60,50,40,30,20,10,0],"paddingInner":0,"paddingOuter":0},"axis":null}}},
{"data":{"name":"markers"},"transform":[{"filter":"datum.m==='dot'"}],"mark":{"type":"point","shape":"circle","size":125,"filled":true,"color":"#000","opacity":1},"encoding":{"x":{"field":"x","type":"ordinal","scale":{"type":"band","domain":[0,10,20,30,40,50,60,70,80,90,100],"paddingInner":0,"paddingOuter":0},"axis":null},"y":{"field":"y","type":"ordinal","scale":{"type":"band","domain":[100,90,80,70,60,50,40,30,20,10,0],"paddingInner":0,"paddingOuter":0},"axis":{"values":[0,20,40,60,80,100],"orient":"left","offset":36,"labelPadding":8,"labelExpr":"datum.value == 20 ? '40' : datum.value == 40 ? '80' : datum.value >= 60 ? '100' : '0'","title":null}}}}
],
"resolve":{"axis":{"x":"independent","y":"independent"}}},
{"width":242.5,"height":226.5,"title":{"text":"25% prefer blue","frame":"group","anchor":"middle","offset":1.35,"baseline":"top"},
"layer":[
{"data":{"name":"C25"},"mark":{"type":"rect","stroke":"#000","strokeWidth":0.75},"encoding":{"x":{"field":"x","type":"ordinal","scale":{"type":"band","domain":[0,10,20,30,40,50,60,70,80,90,100],"paddingInner":0,"paddingOuter":0},"axis":null},"y":{"field":"y","type":"ordinal","scale":{"type":"band","domain":[100,90,80,70,60,50,40,30,20,10,0],"paddingInner":0,"paddingOuter":0},"axis":null},"fill":{"field":"c","type":"nominal","scale":{"domain":["R","W","B","H"],"range":["#ED1C24","#FFFFFF","#2E3192","#ED1C24"]},"legend":null}}},
{"data":{"name":"C25"},"transform":[{"filter":"datum.c==='H'"}],"mark":{"type":"rect","stroke":"#000","strokeWidth":0.75,"fill":{"gradient":"linear","x1":0,"y1":1,"x2":1,"y2":0,"stops":[{"offset":0,"color":"#ED1C24"},{"offset":0.17,"color":"#ED1C24"},{"offset":0.17,"color":"#2E3192"},{"offset":0.25,"color":"#2E3192"},{"offset":0.25,"color":"#ED1C24"},{"offset":0.42,"color":"#ED1C24"},{"offset":0.42,"color":"#2E3192"},{"offset":0.5,"color":"#2E3192"},{"offset":0.5,"color":"#ED1C24"},{"offset":0.67,"color":"#ED1C24"},{"offset":0.67,"color":"#2E3192"},{"offset":0.75,"color":"#2E3192"},{"offset":0.75,"color":"#ED1C24"},{"offset":0.92,"color":"#ED1C24"},{"offset":0.92,"color":"#2E3192"},{"offset":1,"color":"#2E3192"}]}},"encoding":{"x":{"field":"x","type":"ordinal","scale":{"type":"band","domain":[0,10,20,30,40,50,60,70,80,90,100],"paddingInner":0,"paddingOuter":0},"axis":null},"y":{"field":"y","type":"ordinal","scale":{"type":"band","domain":[100,90,80,70,60,50,40,30,20,10,0],"paddingInner":0,"paddingOuter":0},"axis":null}}},
{"data":{"name":"markers"},"transform":[{"filter":"datum.m==='tri'"}],"mark":{"type":"point","shape":"triangle-up","size":225,"filled":true,"color":"#000","opacity":1},"encoding":{"x":{"field":"x","type":"ordinal","bandPosition":0,"scale":{"type":"band","domain":[0,10,20,30,40,50,60,70,80,90,100],"paddingInner":0,"paddingOuter":0},"axis":null},"y":{"field":"y","type":"ordinal","scale":{"type":"band","domain":[100,90,80,70,60,50,40,30,20,10,0],"paddingInner":0,"paddingOuter":0},"axis":null}}},
{"data":{"name":"markers"},"transform":[{"filter":"datum.m==='dot'"}],"mark":{"type":"point","shape":"circle","size":125,"filled":true,"color":"#000","opacity":1},"encoding":{"x":{"field":"x","type":"ordinal","scale":{"type":"band","domain":[0,10,20,30,40,50,60,70,80,90,100],"paddingInner":0,"paddingOuter":0},"axis":null},"y":{"field":"y","type":"ordinal","scale":{"type":"band","domain":[100,90,80,70,60,50,40,30,20,10,0],"paddingInner":0,"paddingOuter":0},"axis":null}}}
],
"resolve":{"axis":{"x":"independent","y":"independent"}}}
],"spacing":61.7,"bounds":"flush"},
{"hconcat":[
{"width":242.5,"height":226.5,"title":{"text":"50% prefer blue","frame":"group","anchor":"middle","offset":1.35,"baseline":"top"},
"layer":[
{"data":{"name":"B50"},"mark":{"type":"rect","stroke":"#000","strokeWidth":0.75},"encoding":{"x":{"field":"x","type":"ordinal","scale":{"type":"band","domain":[0,10,20,30,40,50,60,70,80,90,100],"paddingInner":0,"paddingOuter":0},"axis":null},"y":{"field":"y","type":"ordinal","scale":{"type":"band","domain":[100,90,80,70,60,50,40,30,20,10,0],"paddingInner":0,"paddingOuter":0},"axis":{"values":[0,20,40,60,80,100],"orient":"left","labelPadding":8,"title":null}},"fill":{"field":"c","type":"nominal","scale":{"domain":["R","W","B","H"],"range":["#ED1C24","#FFFFFF","#2E3192","#ED1C24"]},"legend":null}}},
{"data":{"name":"B50"},"transform":[{"filter":"datum.c==='H'"}],"mark":{"type":"rect","stroke":"#000","strokeWidth":0.75,"fill":{"gradient":"linear","x1":0,"y1":1,"x2":1,"y2":0,"stops":[{"offset":0,"color":"#ED1C24"},{"offset":0.17,"color":"#ED1C24"},{"offset":0.17,"color":"#2E3192"},{"offset":0.25,"color":"#2E3192"},{"offset":0.25,"color":"#ED1C24"},{"offset":0.42,"color":"#ED1C24"},{"offset":0.42,"color":"#2E3192"},{"offset":0.5,"color":"#2E3192"},{"offset":0.5,"color":"#ED1C24"},{"offset":0.67,"color":"#ED1C24"},{"offset":0.67,"color":"#2E3192"},{"offset":0.75,"color":"#2E3192"},{"offset":0.75,"color":"#ED1C24"},{"offset":0.92,"color":"#ED1C24"},{"offset":0.92,"color":"#2E3192"},{"offset":1,"color":"#2E3192"}]}},"encoding":{"x":{"field":"x","type":"ordinal","scale":{"type":"band","domain":[0,10,20,30,40,50,60,70,80,90,100],"paddingInner":0,"paddingOuter":0},"axis":null},"y":{"field":"y","type":"ordinal","scale":{"type":"band","domain":[100,90,80,70,60,50,40,30,20,10,0],"paddingInner":0,"paddingOuter":0},"axis":null}}},
{"data":{"name":"markers"},"transform":[{"filter":"datum.m==='tri'"}],"mark":{"type":"point","shape":"triangle-up","size":225,"filled":true,"color":"#000","opacity":1},"encoding":{"x":{"field":"x","type":"ordinal","bandPosition":0,"scale":{"type":"band","domain":[0,10,20,30,40,50,60,70,80,90,100],"paddingInner":0,"paddingOuter":0},"axis":null},"y":{"field":"y","type":"ordinal","scale":{"type":"band","domain":[100,90,80,70,60,50,40,30,20,10,0],"paddingInner":0,"paddingOuter":0},"axis":null}}},
{"data":{"name":"markers"},"transform":[{"filter":"datum.m==='dot'"}],"mark":{"type":"point","shape":"circle","size":125,"filled":true,"color":"#000","opacity":1},"encoding":{"x":{"field":"x","type":"ordinal","scale":{"type":"band","domain":[0,10,20,30,40,50,60,70,80,90,100],"paddingInner":0,"paddingOuter":0},"axis":null},"y":{"field":"y","type":"ordinal","scale":{"type":"band","domain":[100,90,80,70,60,50,40,30,20,10,0],"paddingInner":0,"paddingOuter":0},"axis":{"values":[0,20,40,60,80,100],"orient":"left","offset":36,"labelPadding":8,"labelExpr":"datum.value == 20 ? '40' : datum.value == 40 ? '80' : datum.value >= 60 ? '100' : '0'","title":null}}}}
],
"resolve":{"axis":{"x":"independent","y":"independent"}}},
{"width":242.5,"height":226.5,"title":{"text":"50% prefer blue","frame":"group","anchor":"middle","offset":1.35,"baseline":"top"},
"layer":[
{"data":{"name":"C50"},"mark":{"type":"rect","stroke":"#000","strokeWidth":0.75},"encoding":{"x":{"field":"x","type":"ordinal","scale":{"type":"band","domain":[0,10,20,30,40,50,60,70,80,90,100],"paddingInner":0,"paddingOuter":0},"axis":null},"y":{"field":"y","type":"ordinal","scale":{"type":"band","domain":[100,90,80,70,60,50,40,30,20,10,0],"paddingInner":0,"paddingOuter":0},"axis":null},"fill":{"field":"c","type":"nominal","scale":{"domain":["R","W","B","H"],"range":["#ED1C24","#FFFFFF","#2E3192","#ED1C24"]},"legend":null}}},
{"data":{"name":"C50"},"transform":[{"filter":"datum.c==='H'"}],"mark":{"type":"rect","stroke":"#000","strokeWidth":0.75,"fill":{"gradient":"linear","x1":0,"y1":1,"x2":1,"y2":0,"stops":[{"offset":0,"color":"#ED1C24"},{"offset":0.17,"color":"#ED1C24"},{"offset":0.17,"color":"#2E3192"},{"offset":0.25,"color":"#2E3192"},{"offset":0.25,"color":"#ED1C24"},{"offset":0.42,"color":"#ED1C24"},{"offset":0.42,"color":"#2E3192"},{"offset":0.5,"color":"#2E3192"},{"offset":0.5,"color":"#ED1C24"},{"offset":0.67,"color":"#ED1C24"},{"offset":0.67,"color":"#2E3192"},{"offset":0.75,"color":"#2E3192"},{"offset":0.75,"color":"#ED1C24"},{"offset":0.92,"color":"#ED1C24"},{"offset":0.92,"color":"#2E3192"},{"offset":1,"color":"#2E3192"}]}},"encoding":{"x":{"field":"x","type":"ordinal","scale":{"type":"band","domain":[0,10,20,30,40,50,60,70,80,90,100],"paddingInner":0,"paddingOuter":0},"axis":null},"y":{"field":"y","type":"ordinal","scale":{"type":"band","domain":[100,90,80,70,60,50,40,30,20,10,0],"paddingInner":0,"paddingOuter":0},"axis":null}}},
{"data":{"name":"markers"},"transform":[{"filter":"datum.m==='tri'"}],"mark":{"type":"point","shape":"triangle-up","size":225,"filled":true,"color":"#000","opacity":1},"encoding":{"x":{"field":"x","type":"ordinal","bandPosition":0,"scale":{"type":"band","domain":[0,10,20,30,40,50,60,70,80,90,100],"paddingInner":0,"paddingOuter":0},"axis":null},"y":{"field":"y","type":"ordinal","scale":{"type":"band","domain":[100,90,80,70,60,50,40,30,20,10,0],"paddingInner":0,"paddingOuter":0},"axis":null}}},
{"data":{"name":"markers"},"transform":[{"filter":"datum.m==='dot'"}],"mark":{"type":"point","shape":"circle","size":125,"filled":true,"color":"#000","opacity":1},"encoding":{"x":{"field":"x","type":"ordinal","scale":{"type":"band","domain":[0,10,20,30,40,50,60,70,80,90,100],"paddingInner":0,"paddingOuter":0},"axis":null},"y":{"field":"y","type":"ordinal","scale":{"type":"band","domain":[100,90,80,70,60,50,40,30,20,10,0],"paddingInner":0,"paddingOuter":0},"axis":null}}}
],
"resolve":{"axis":{"x":"independent","y":"independent"}}}
],"spacing":61.7,"bounds":"flush"},
{"hconcat":[
{"width":242.5,"height":226.5,"title":{"text":"75% prefer blue","frame":"group","anchor":"middle","offset":1.35,"baseline":"top"},
"layer":[
{"data":{"name":"B75"},"mark":{"type":"rect","stroke":"#000","strokeWidth":0.75},"encoding":{"x":{"field":"x","type":"ordinal","scale":{"type":"band","domain":[0,10,20,30,40,50,60,70,80,90,100],"paddingInner":0,"paddingOuter":0},"axis":null},"y":{"field":"y","type":"ordinal","scale":{"type":"band","domain":[100,90,80,70,60,50,40,30,20,10,0],"paddingInner":0,"paddingOuter":0},"axis":{"values":[0,20,40,60,80,100],"orient":"left","labelPadding":8,"title":null}},"fill":{"field":"c","type":"nominal","scale":{"domain":["R","W","B","H"],"range":["#ED1C24","#FFFFFF","#2E3192","#ED1C24"]},"legend":null}}},
{"data":{"name":"B75"},"transform":[{"filter":"datum.c==='H'"}],"mark":{"type":"rect","stroke":"#000","strokeWidth":0.75,"fill":{"gradient":"linear","x1":0,"y1":1,"x2":1,"y2":0,"stops":[{"offset":0,"color":"#ED1C24"},{"offset":0.17,"color":"#ED1C24"},{"offset":0.17,"color":"#2E3192"},{"offset":0.25,"color":"#2E3192"},{"offset":0.25,"color":"#ED1C24"},{"offset":0.42,"color":"#ED1C24"},{"offset":0.42,"color":"#2E3192"},{"offset":0.5,"color":"#2E3192"},{"offset":0.5,"color":"#ED1C24"},{"offset":0.67,"color":"#ED1C24"},{"offset":0.67,"color":"#2E3192"},{"offset":0.75,"color":"#2E3192"},{"offset":0.75,"color":"#ED1C24"},{"offset":0.92,"color":"#ED1C24"},{"offset":0.92,"color":"#2E3192"},{"offset":1,"color":"#2E3192"}]}},"encoding":{"x":{"field":"x","type":"ordinal","scale":{"type":"band","domain":[0,10,20,30,40,50,60,70,80,90,100],"paddingInner":0,"paddingOuter":0},"axis":null},"y":{"field":"y","type":"ordinal","scale":{"type":"band","domain":[100,90,80,70,60,50,40,30,20,10,0],"paddingInner":0,"paddingOuter":0},"axis":null}}},
{"data":{"name":"markers"},"transform":[{"filter":"datum.m==='tri'"}],"mark":{"type":"point","shape":"triangle-up","size":225,"filled":true,"color":"#000","opacity":1},"encoding":{"x":{"field":"x","type":"ordinal","bandPosition":0,"scale":{"type":"band","domain":[0,10,20,30,40,50,60,70,80,90,100],"paddingInner":0,"paddingOuter":0},"axis":null},"y":{"field":"y","type":"ordinal","scale":{"type":"band","domain":[100,90,80,70,60,50,40,30,20,10,0],"paddingInner":0,"paddingOuter":0},"axis":null}}},
{"data":{"name":"markers"},"transform":[{"filter":"datum.m==='dot'"}],"mark":{"type":"point","shape":"circle","size":125,"filled":true,"color":"#000","opacity":1},"encoding":{"x":{"field":"x","type":"ordinal","scale":{"type":"band","domain":[0,10,20,30,40,50,60,70,80,90,100],"paddingInner":0,"paddingOuter":0},"axis":null},"y":{"field":"y","type":"ordinal","scale":{"type":"band","domain":[100,90,80,70,60,50,40,30,20,10,0],"paddingInner":0,"paddingOuter":0},"axis":{"values":[0,20,40,60,80,100],"orient":"left","offset":36,"labelPadding":8,"labelExpr":"datum.value == 20 ? '40' : datum.value == 40 ? '80' : datum.value >= 60 ? '100' : '0'","title":null}}}}
],
"resolve":{"axis":{"x":"independent","y":"independent"}}},
{"width":242.5,"height":226.5,"title":{"text":"75% prefer blue","frame":"group","anchor":"middle","offset":1.35,"baseline":"top"},
"layer":[
{"data":{"name":"C75"},"mark":{"type":"rect","stroke":"#000","strokeWidth":0.75},"encoding":{"x":{"field":"x","type":"ordinal","scale":{"type":"band","domain":[0,10,20,30,40,50,60,70,80,90,100],"paddingInner":0,"paddingOuter":0},"axis":null},"y":{"field":"y","type":"ordinal","scale":{"type":"band","domain":[100,90,80,70,60,50,40,30,20,10,0],"paddingInner":0,"paddingOuter":0},"axis":null},"fill":{"field":"c","type":"nominal","scale":{"domain":["R","W","B","H"],"range":["#ED1C24","#FFFFFF","#2E3192","#ED1C24"]},"legend":null}}},
{"data":{"name":"C75"},"transform":[{"filter":"datum.c==='H'"}],"mark":{"type":"rect","stroke":"#000","strokeWidth":0.75,"fill":{"gradient":"linear","x1":0,"y1":1,"x2":1,"y2":0,"stops":[{"offset":0,"color":"#ED1C24"},{"offset":0.17,"color":"#ED1C24"},{"offset":0.17,"color":"#2E3192"},{"offset":0.25,"color":"#2E3192"},{"offset":0.25,"color":"#ED1C24"},{"offset":0.42,"color":"#ED1C24"},{"offset":0.42,"color":"#2E3192"},{"offset":0.5,"color":"#2E3192"},{"offset":0.5,"color":"#ED1C24"},{"offset":0.67,"color":"#ED1C24"},{"offset":0.67,"color":"#2E3192"},{"offset":0.75,"color":"#2E3192"},{"offset":0.75,"color":"#ED1C24"},{"offset":0.92,"color":"#ED1C24"},{"offset":0.92,"color":"#2E3192"},{"offset":1,"color":"#2E3192"}]}},"encoding":{"x":{"field":"x","type":"ordinal","scale":{"type":"band","domain":[0,10,20,30,40,50,60,70,80,90,100],"paddingInner":0,"paddingOuter":0},"axis":null},"y":{"field":"y","type":"ordinal","scale":{"type":"band","domain":[100,90,80,70,60,50,40,30,20,10,0],"paddingInner":0,"paddingOuter":0},"axis":null}}},
{"data":{"name":"markers"},"transform":[{"filter":"datum.m==='tri'"}],"mark":{"type":"point","shape":"triangle-up","size":225,"filled":true,"color":"#000","opacity":1},"encoding":{"x":{"field":"x","type":"ordinal","bandPosition":0,"scale":{"type":"band","domain":[0,10,20,30,40,50,60,70,80,90,100],"paddingInner":0,"paddingOuter":0},"axis":null},"y":{"field":"y","type":"ordinal","scale":{"type":"band","domain":[100,90,80,70,60,50,40,30,20,10,0],"paddingInner":0,"paddingOuter":0},"axis":null}}},
{"data":{"name":"markers"},"transform":[{"filter":"datum.m==='dot'"}],"mark":{"type":"point","shape":"circle","size":125,"filled":true,"color":"#000","opacity":1},"encoding":{"x":{"field":"x","type":"ordinal","scale":{"type":"band","domain":[0,10,20,30,40,50,60,70,80,90,100],"paddingInner":0,"paddingOuter":0},"axis":null},"y":{"field":"y","type":"ordinal","scale":{"type":"band","domain":[100,90,80,70,60,50,40,30,20,10,0],"paddingInner":0,"paddingOuter":0},"axis":null}}}
],
"resolve":{"axis":{"x":"independent","y":"independent"}}}
],"spacing":61.7,"bounds":"flush"},
{"hconcat":[
{"width":242.5,"height":226.5,"title":{"text":"90% prefer blue","frame":"group","anchor":"middle","offset":1.35,"baseline":"top"},
"layer":[
{"data":{"name":"B90"},"mark":{"type":"rect","stroke":"#000","strokeWidth":0.75},"encoding":{"x":{"field":"x","type":"ordinal","scale":{"type":"band","domain":[0,10,20,30,40,50,60,70,80,90,100],"paddingInner":0,"paddingOuter":0},"axis":{"values":[0,20,40,60,80,100],"orient":"bottom","labelPadding":5,"title":null}},"y":{"field":"y","type":"ordinal","scale":{"type":"band","domain":[100,90,80,70,60,50,40,30,20,10,0],"paddingInner":0,"paddingOuter":0},"axis":{"values":[0,20,40,60,80,100],"orient":"left","labelPadding":8,"title":null}},"fill":{"field":"c","type":"nominal","scale":{"domain":["R","W","B","H"],"range":["#ED1C24","#FFFFFF","#2E3192","#ED1C24"]},"legend":null}}},
{"data":{"name":"B90"},"transform":[{"filter":"datum.c==='H'"}],"mark":{"type":"rect","stroke":"#000","strokeWidth":0.75,"fill":{"gradient":"linear","x1":0,"y1":1,"x2":1,"y2":0,"stops":[{"offset":0,"color":"#ED1C24"},{"offset":0.17,"color":"#ED1C24"},{"offset":0.17,"color":"#2E3192"},{"offset":0.25,"color":"#2E3192"},{"offset":0.25,"color":"#ED1C24"},{"offset":0.42,"color":"#ED1C24"},{"offset":0.42,"color":"#2E3192"},{"offset":0.5,"color":"#2E3192"},{"offset":0.5,"color":"#ED1C24"},{"offset":0.67,"color":"#ED1C24"},{"offset":0.67,"color":"#2E3192"},{"offset":0.75,"color":"#2E3192"},{"offset":0.75,"color":"#ED1C24"},{"offset":0.92,"color":"#ED1C24"},{"offset":0.92,"color":"#2E3192"},{"offset":1,"color":"#2E3192"}]}},"encoding":{"x":{"field":"x","type":"ordinal","scale":{"type":"band","domain":[0,10,20,30,40,50,60,70,80,90,100],"paddingInner":0,"paddingOuter":0},"axis":null},"y":{"field":"y","type":"ordinal","scale":{"type":"band","domain":[100,90,80,70,60,50,40,30,20,10,0],"paddingInner":0,"paddingOuter":0},"axis":null}}},
{"data":{"name":"markers"},"transform":[{"filter":"datum.m==='tri'"}],"mark":{"type":"point","shape":"triangle-up","size":225,"filled":true,"color":"#000","opacity":1},"encoding":{"x":{"field":"x","type":"ordinal","bandPosition":0,"scale":{"type":"band","domain":[0,10,20,30,40,50,60,70,80,90,100],"paddingInner":0,"paddingOuter":0},"axis":null},"y":{"field":"y","type":"ordinal","scale":{"type":"band","domain":[100,90,80,70,60,50,40,30,20,10,0],"paddingInner":0,"paddingOuter":0},"axis":null}}},
{"data":{"name":"markers"},"transform":[{"filter":"datum.m==='dot'"}],"mark":{"type":"point","shape":"circle","size":125,"filled":true,"color":"#000","opacity":1},"encoding":{"x":{"field":"x","type":"ordinal","scale":{"type":"band","domain":[0,10,20,30,40,50,60,70,80,90,100],"paddingInner":0,"paddingOuter":0},"axis":{"values":[0,20,40,60,80,100],"orient":"bottom","offset":22,"labelPadding":5,"labelExpr":"datum.value == 20 ? '40' : datum.value == 40 ? '80' : datum.value >= 60 ? '100' : '0'","title":null}},"y":{"field":"y","type":"ordinal","scale":{"type":"band","domain":[100,90,80,70,60,50,40,30,20,10,0],"paddingInner":0,"paddingOuter":0},"axis":{"values":[0,20,40,60,80,100],"orient":"left","offset":36,"labelPadding":8,"labelExpr":"datum.value == 20 ? '40' : datum.value == 40 ? '80' : datum.value >= 60 ? '100' : '0'","title":null}}}}
],
"resolve":{"axis":{"x":"independent","y":"independent"}}},
{"width":242.5,"height":226.5,"title":{"text":"90% prefer blue","frame":"group","anchor":"middle","offset":1.35,"baseline":"top"},
"layer":[
{"data":{"name":"C90"},"mark":{"type":"rect","stroke":"#000","strokeWidth":0.75},"encoding":{"x":{"field":"x","type":"ordinal","scale":{"type":"band","domain":[0,10,20,30,40,50,60,70,80,90,100],"paddingInner":0,"paddingOuter":0},"axis":{"values":[0,20,40,60,80,100],"orient":"bottom","labelPadding":5,"title":"% reject hybrid","titleAngle":0,"titleAlign":"left","titleBaseline":"top","titleX":249,"titleY":5}},"y":{"field":"y","type":"ordinal","scale":{"type":"band","domain":[100,90,80,70,60,50,40,30,20,10,0],"paddingInner":0,"paddingOuter":0},"axis":null},"fill":{"field":"c","type":"nominal","scale":{"domain":["R","W","B","H"],"range":["#ED1C24","#FFFFFF","#2E3192","#ED1C24"]},"legend":null}}},
{"data":{"name":"C90"},"transform":[{"filter":"datum.c==='H'"}],"mark":{"type":"rect","stroke":"#000","strokeWidth":0.75,"fill":{"gradient":"linear","x1":0,"y1":1,"x2":1,"y2":0,"stops":[{"offset":0,"color":"#ED1C24"},{"offset":0.17,"color":"#ED1C24"},{"offset":0.17,"color":"#2E3192"},{"offset":0.25,"color":"#2E3192"},{"offset":0.25,"color":"#ED1C24"},{"offset":0.42,"color":"#ED1C24"},{"offset":0.42,"color":"#2E3192"},{"offset":0.5,"color":"#2E3192"},{"offset":0.5,"color":"#ED1C24"},{"offset":0.67,"color":"#ED1C24"},{"offset":0.67,"color":"#2E3192"},{"offset":0.75,"color":"#2E3192"},{"offset":0.75,"color":"#ED1C24"},{"offset":0.92,"color":"#ED1C24"},{"offset":0.92,"color":"#2E3192"},{"offset":1,"color":"#2E3192"}]}},"encoding":{"x":{"field":"x","type":"ordinal","scale":{"type":"band","domain":[0,10,20,30,40,50,60,70,80,90,100],"paddingInner":0,"paddingOuter":0},"axis":null},"y":{"field":"y","type":"ordinal","scale":{"type":"band","domain":[100,90,80,70,60,50,40,30,20,10,0],"paddingInner":0,"paddingOuter":0},"axis":null}}},
{"data":{"name":"markers"},"transform":[{"filter":"datum.m==='tri'"}],"mark":{"type":"point","shape":"triangle-up","size":225,"filled":true,"color":"#000","opacity":1},"encoding":{"x":{"field":"x","type":"ordinal","bandPosition":0,"scale":{"type":"band","domain":[0,10,20,30,40,50,60,70,80,90,100],"paddingInner":0,"paddingOuter":0},"axis":null},"y":{"field":"y","type":"ordinal","scale":{"type":"band","domain":[100,90,80,70,60,50,40,30,20,10,0],"paddingInner":0,"paddingOuter":0},"axis":null}}},
{"data":{"name":"markers"},"transform":[{"filter":"datum.m==='dot'"}],"mark":{"type":"point","shape":"circle","size":125,"filled":true,"color":"#000","opacity":1},"encoding":{"x":{"field":"x","type":"ordinal","scale":{"type":"band","domain":[0,10,20,30,40,50,60,70,80,90,100],"paddingInner":0,"paddingOuter":0},"axis":{"values":[0,20,40,60,80,100],"orient":"bottom","offset":22,"labelPadding":5,"labelExpr":"datum.value == 20 ? '40' : datum.value == 40 ? '80' : datum.value >= 60 ? '100' : '0'","title":"% reject red","titleAngle":0,"titleAlign":"left","titleBaseline":"top","titleX":249,"titleY":5}},"y":{"field":"y","type":"ordinal","scale":{"type":"band","domain":[100,90,80,70,60,50,40,30,20,10,0],"paddingInner":0,"paddingOuter":0},"axis":null}}}
],
"resolve":{"axis":{"x":"independent","y":"independent"}}}
],"spacing":61.7,"bounds":"flush"}
]}
]}]
}
